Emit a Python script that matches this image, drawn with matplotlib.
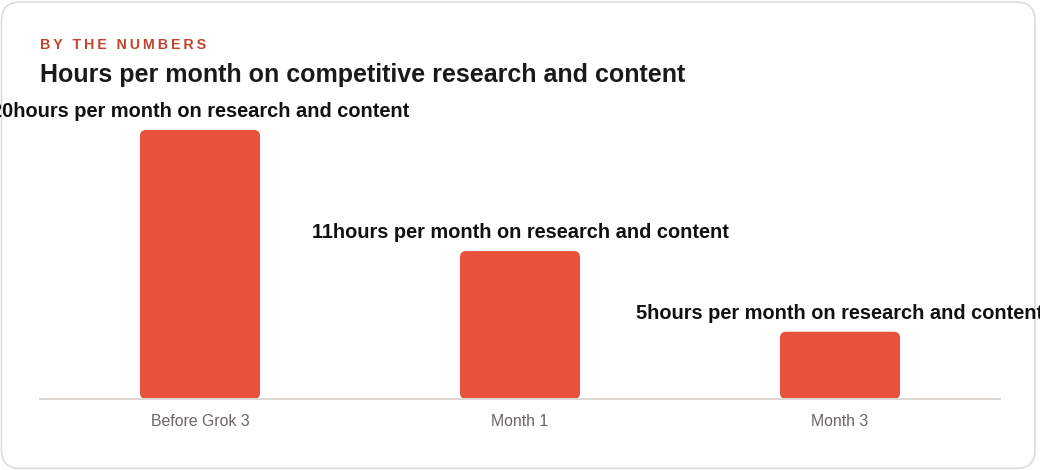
import matplotlib
matplotlib.use("Agg")
import matplotlib.pyplot as plt
from matplotlib.patches import FancyBboxPatch

plt.rcParams['font.family'] = ['Liberation Sans', 'DejaVu Sans']

# data
categories = ['Before Grok 3', 'Month 1', 'Month 3']
hours = [20, 11, 5]
unit = 'hours per month on research and content'

kicker = 'BY THE NUMBERS'
title = 'Hours per month on competitive research and content'

bar_color = '#e8513a'
W, H = 1040, 470

fig = plt.figure(figsize=(W / 100, H / 100), dpi=100)
fig.patch.set_facecolor('white')

# card background
card = FancyBboxPatch((1.5 / W, 1.5 / H), (1035 - 1.5) / W, (468 - 1.5) / H,
                      boxstyle='round,pad=0,rounding_size=0.018',
                      mutation_aspect=W / H,
                      transform=fig.transFigure, facecolor='white',
                      edgecolor='#dcdcdc', linewidth=1.2, zorder=-5)
fig.patches.append(card)

# axes: x 40..1000 px, baseline at y=399
ax_bottom = (H - 399) / H
ymax = 22
px_per_unit = 269 / 20
ax_height = ymax * px_per_unit / H
ax = fig.add_axes([40 / W, ax_bottom, 960 / W, ax_height])
ax.set_xlim(-0.5, 2.5)
ax.set_ylim(0, ymax)
ax.axis('off')

x = range(len(categories))
bars = ax.bar(x, hours, width=0.375, color=bar_color)

# rounded bars
aspect = (1 / px_per_unit) / (3 / 960)
for b in bars:
    b.set_visible(False)
    rb = FancyBboxPatch((b.get_x(), b.get_y()), b.get_width(), b.get_height(),
                        boxstyle='round,pad=0,rounding_size=%f' % (6 * 3 / 960),
                        mutation_aspect=aspect, facecolor=bar_color,
                        edgecolor='none')
    ax.add_patch(rb)

# baseline
ax.plot([-0.5, 2.5], [0, 0], color='#ddd8d2', linewidth=1.5, clip_on=False)

for i, v in enumerate(hours):
    t = ax.text(i, v + 9 / px_per_unit, f'{v}{unit}', ha='center', va='bottom',
                fontsize=14.4, fontweight='bold', color='#111111')
    t.set_clip_path(card)
    ax.text(i, -23 / px_per_unit, categories[i], ha='center', va='center',
            fontsize=11.4, color='#6b6560')

fig.text(40 / W, 1 - 45 / H, '\u2009'.join(kicker), ha='left', va='center',
         fontsize=10.3, fontweight='bold', color='#c0432f')
fig.text(40 / W, 1 - 75 / H, title, ha='left', va='center',
         fontsize=18, fontweight='bold', color='#1a1a1a')

fig.savefig('out.png', dpi=100, facecolor=fig.get_facecolor())
